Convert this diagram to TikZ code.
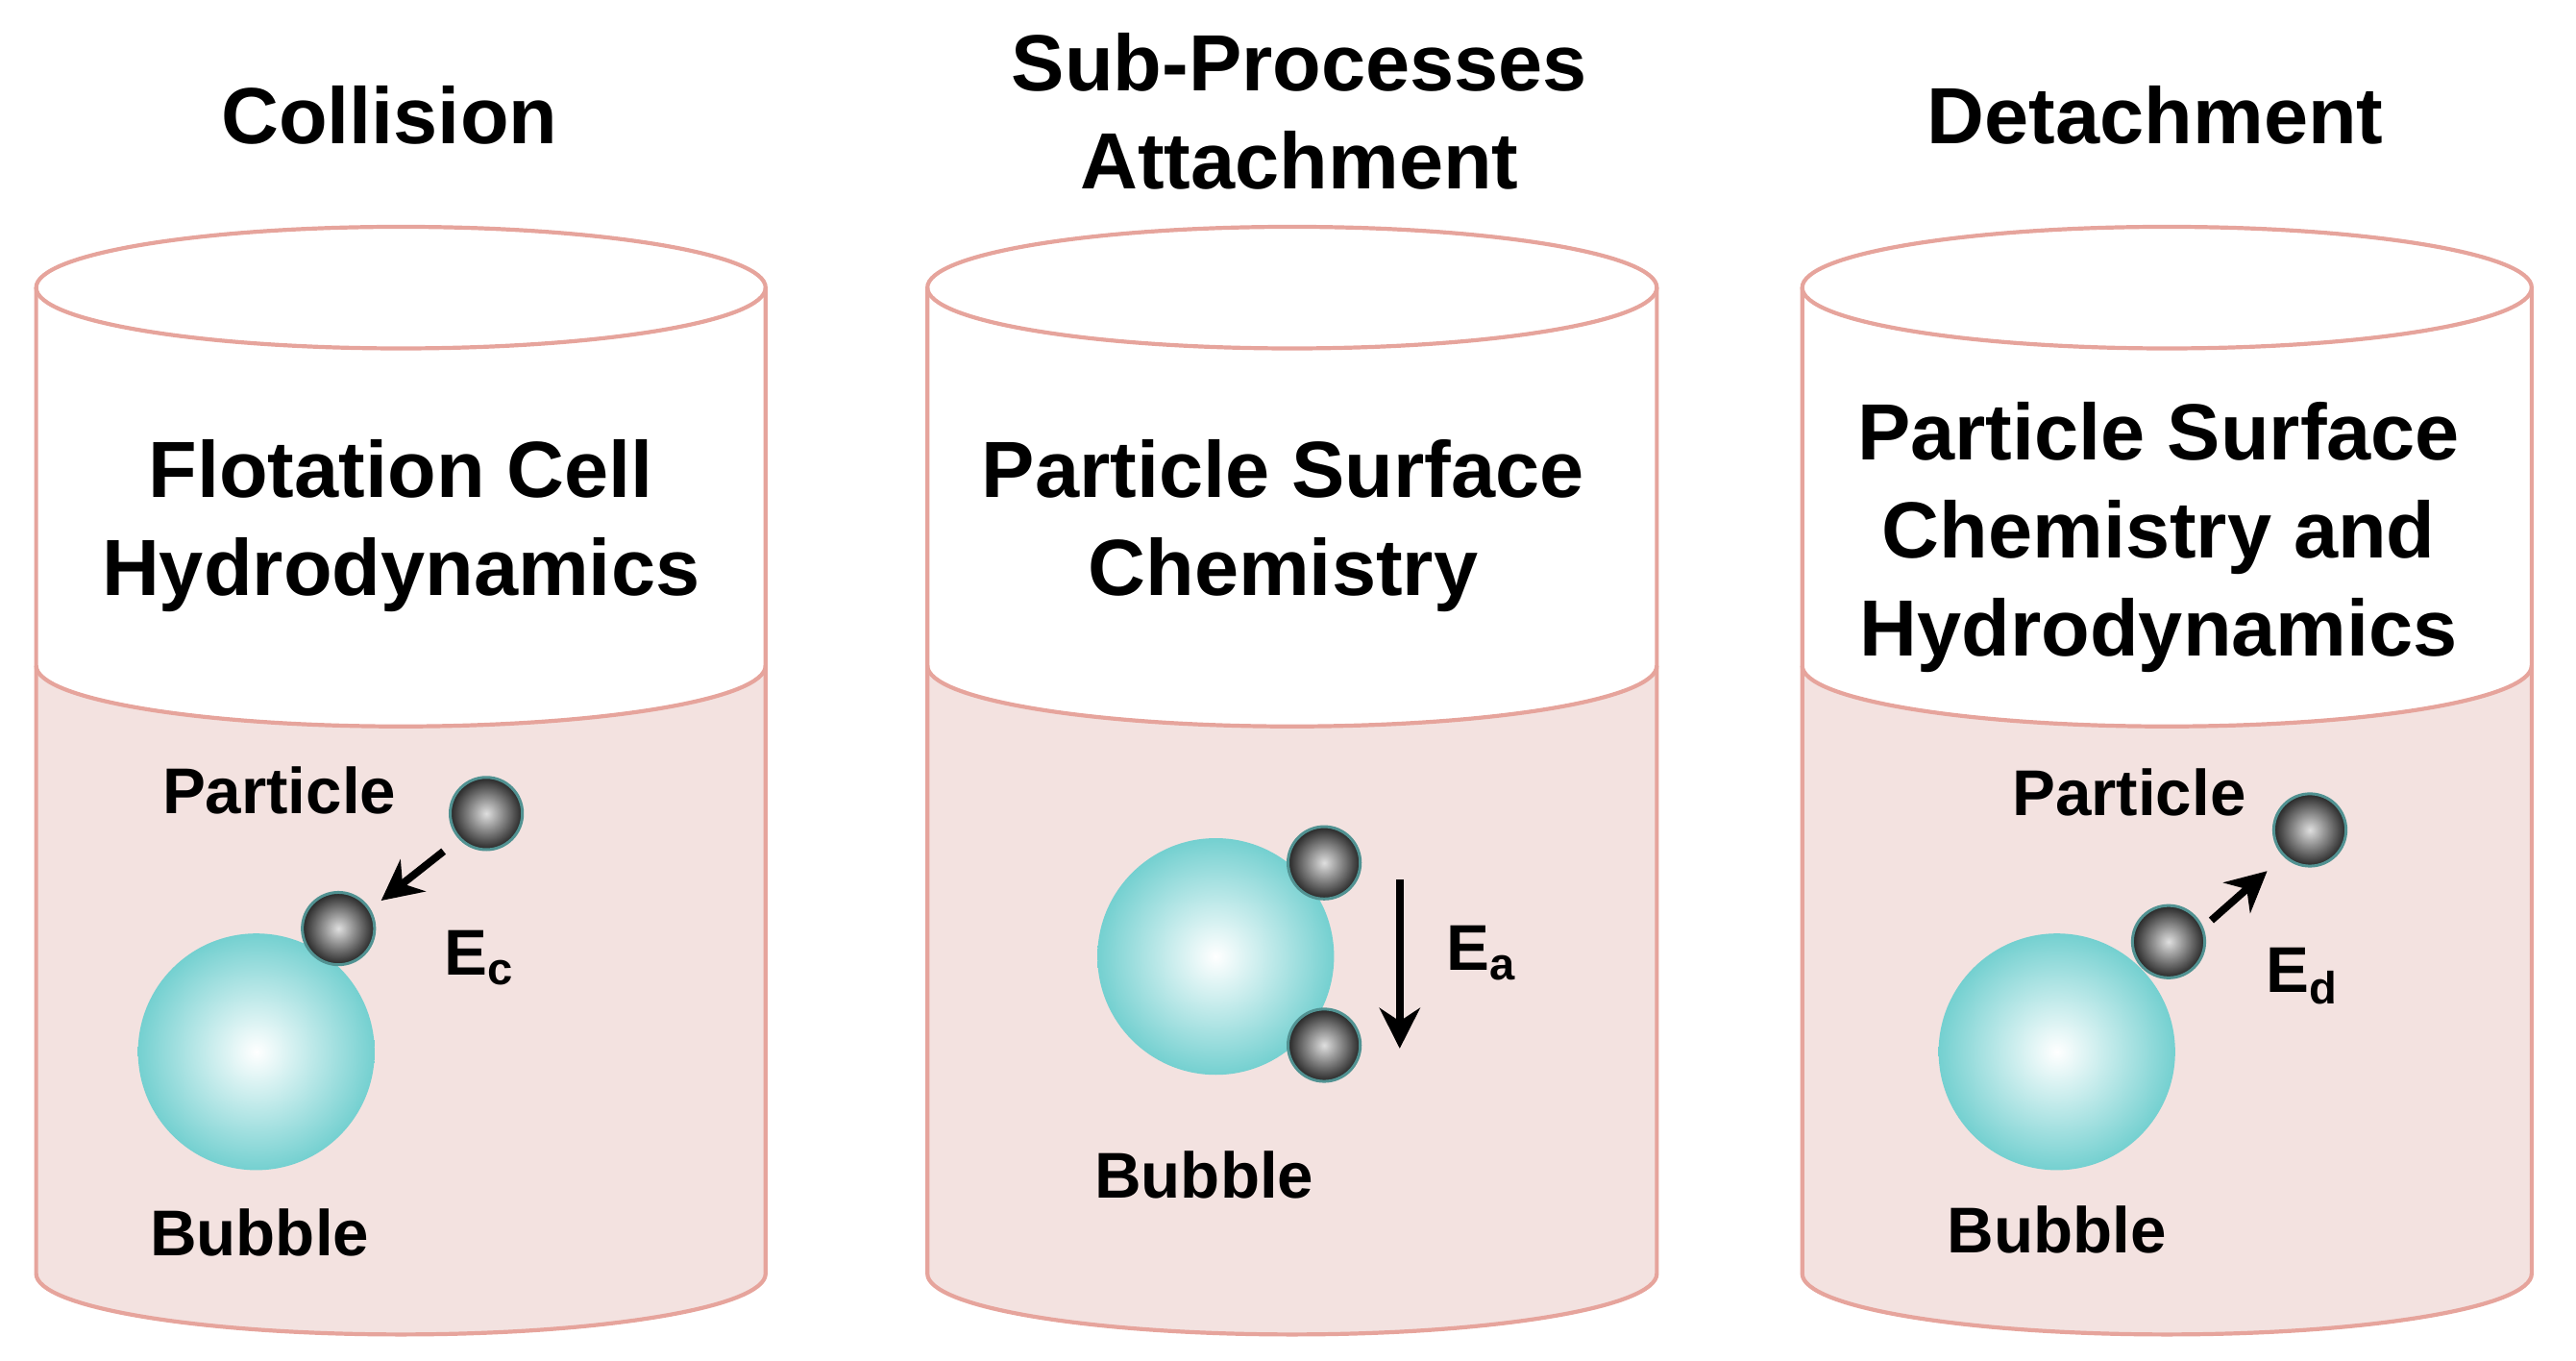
\documentclass[tikz,border=0pt]{standalone}
\usepackage{fontspec}
\setmainfont{Liberation Sans}
\usetikzlibrary{arrows.meta}
\definecolor{liq}{HTML}{F3E2E0}
\definecolor{edge}{HTML}{E6A49C}
\definecolor{bub}{HTML}{74D0D0}
\tikzset{
 lbl/.style={font=\bfseries\fontsize{13.8}{17}\selectfont,align=center,inner sep=0},
 sml/.style={font=\bfseries\fontsize{11.2}{13}\selectfont,inner sep=0},
 arr/.style={-{Stealth[length=7pt,width=7pt]},line width=1.3pt},
}
\newcommand{\cyl}[1]{%
 \fill[liq] (#1-2.22,-4.05) -- (#1-2.22,-7.75) arc[start angle=180,end angle=360,x radius=2.22,y radius=0.37] -- (#1+2.22,-4.05) arc[start angle=0,end angle=-180,x radius=2.22,y radius=0.37];
 \draw[edge,line width=0.7pt] (#1-2.22,-1.75) -- (#1-2.22,-7.75) arc[start angle=180,end angle=360,x radius=2.22,y radius=0.37] -- (#1+2.22,-1.75);
 \draw[edge,line width=0.7pt] (#1,-1.75) ellipse[x radius=2.22,y radius=0.37];
 \draw[edge,line width=0.7pt] (#1-2.22,-4.05) arc[start angle=180,end angle=360,x radius=2.22,y radius=0.37];
}
\newcommand{\bubble}[2]{\shade[inner color=white,outer color=bub] (#1,#2) circle[radius=0.72];}
\newcommand{\ptcl}[3]{\shade[inner color=gray!25,outer color=black!85,draw=bub!70!black,line width=0.5pt] (#1,#2) circle[radius=0.22]; \coordinate (#3) at (#1,#2);}
\begin{document}
\begin{tikzpicture}
\useasboundingbox (0,0) rectangle (15.68,-8.28);
\cyl{2.44}\cyl{7.865}\cyl{13.19}
\node[lbl] (t1) at (2.37,-0.70) {Collision};
\node[lbl] (t2) at (7.91,-0.68) {Sub-Processes\\Attachment};
\node[lbl] (t3) at (13.12,-0.70) {Detachment};
\node[lbl] (c1) at (2.44,-3.20) {Flotation Cell\\Hydrodynamics};
\node[lbl] (c2) at (7.81,-3.20) {Particle Surface\\Chemistry};
\node[lbl] (c3) at (13.14,-3.27) {Particle Surface\\Chemistry and\\Hydrodynamics};
% cyl 1
\bubble{1.56}{-6.40}
\ptcl{2.96}{-4.95}{p1a}\ptcl{2.06}{-5.65}{p1b}
\coordinate (a1s) at (2.70,-5.18); \coordinate (a1e) at (2.32,-5.48);
\draw[arr] (a1s) -- (a1e);
\node[sml] (pl1) at (1.70,-4.81) {Particle};
\node[sml] (bl1) at (1.58,-7.50) {Bubble};
\node[sml] (e1) at (2.92,-5.83) {E\textsubscript{c}};
% cyl 2
\bubble{7.40}{-5.82}
\ptcl{8.06}{-5.25}{p2a}\ptcl{8.06}{-6.36}{p2b}
\coordinate (a2s) at (8.52,-5.35); \coordinate (a2e) at (8.52,-6.38);
\draw[arr] (a2s) -- (a2e);
\node[sml] (e2) at (9.02,-5.80) {E\textsubscript{a}};
\node[sml] (bl2) at (7.33,-7.15) {Bubble};
% cyl 3
\bubble{12.52}{-6.40}
\ptcl{13.20}{-5.73}{p3a}\ptcl{14.06}{-5.05}{p3b}
\coordinate (a3s) at (13.46,-5.60); \coordinate (a3e) at (13.80,-5.30);
\draw[arr] (a3s) -- (a3e);
\node[sml] (pl3) at (12.96,-4.82) {Particle};
\node[sml] (bl3) at (12.52,-7.48) {Bubble};
\node[sml] (e3) at (14.02,-5.94) {E\textsubscript{d}};
\end{tikzpicture}
\end{document}
